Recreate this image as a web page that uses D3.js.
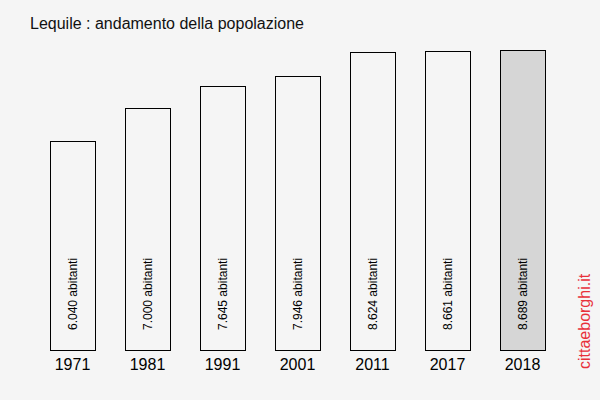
<!DOCTYPE html>
<html><head><meta charset="utf-8">
<script src="https://cdn.jsdelivr.net/npm/d3@7"></script>
<style>body{margin:0;background:#f5f5f5}svg{display:block}</style>
</head><body>
<script>
const years = ["1971","1981","1991","2001","2011","2017","2018"];
const population = [6040, 7000, 7645, 7946, 8624, 8661, 8689];
const labels = ["6.040 abitanti","7.000 abitanti","7.645 abitanti","7.946 abitanti","8.624 abitanti","8.661 abitanti","8.689 abitanti"];
const title = "Lequile : andamento della popolazione";

const svg = d3.select("body").append("svg").attr("width",600).attr("height",400);
svg.append("rect").attr("width",600).attr("height",400).attr("fill","#f5f5f5");

const x = d3.scaleBand().domain(years).range([35,560]).paddingInner(0.4).paddingOuter(0.2);
const y = d3.scaleLinear().domain([0, 8689]).range([350, 50]);

svg.append("text").attr("x",30).attr("y",29).attr("font-family","Liberation Sans, Arial, sans-serif")
  .attr("font-size",16).attr("fill","#111").text(title);

svg.selectAll("rect.bar").data(years).join("rect").attr("class","bar")
  .attr("x",d=>Math.round(x(d))+0.5).attr("y",(d,i)=>Math.round(y(population[i]))+0.5)
  .attr("width",Math.round(x.bandwidth())).attr("height",(d,i)=>Math.round(y(0))-Math.round(y(population[i])))
  .attr("fill",(d,i)=>i===years.length-1?"#d6d6d6":"#f5f5f5").attr("stroke","#000").attr("stroke-width",1);

svg.selectAll("text.val").data(years).join("text").attr("class","val")
  .attr("transform",d=>`translate(${x(d)+x.bandwidth()/2+4},330) rotate(-90)`)
  .attr("font-family","Liberation Sans, Arial, sans-serif").attr("font-size",12).attr("fill","#000")
  .text((d,i)=>labels[i]);

const ax = svg.append("g").attr("transform","translate(0,350)").call(d3.axisBottom(x).tickSize(0).tickPadding(6));
ax.select(".domain").remove();
ax.selectAll("text").attr("font-family","Liberation Sans, Arial, sans-serif").attr("font-size",16).attr("fill","#000").attr("dy","0.9em");

svg.append("text").attr("transform","translate(590,369) rotate(-90)")
  .attr("font-family","Liberation Sans, Arial, sans-serif").attr("font-size",16).attr("fill","#e8303a")
  .text("cittaeborghi.it");
</script>
</body></html>
